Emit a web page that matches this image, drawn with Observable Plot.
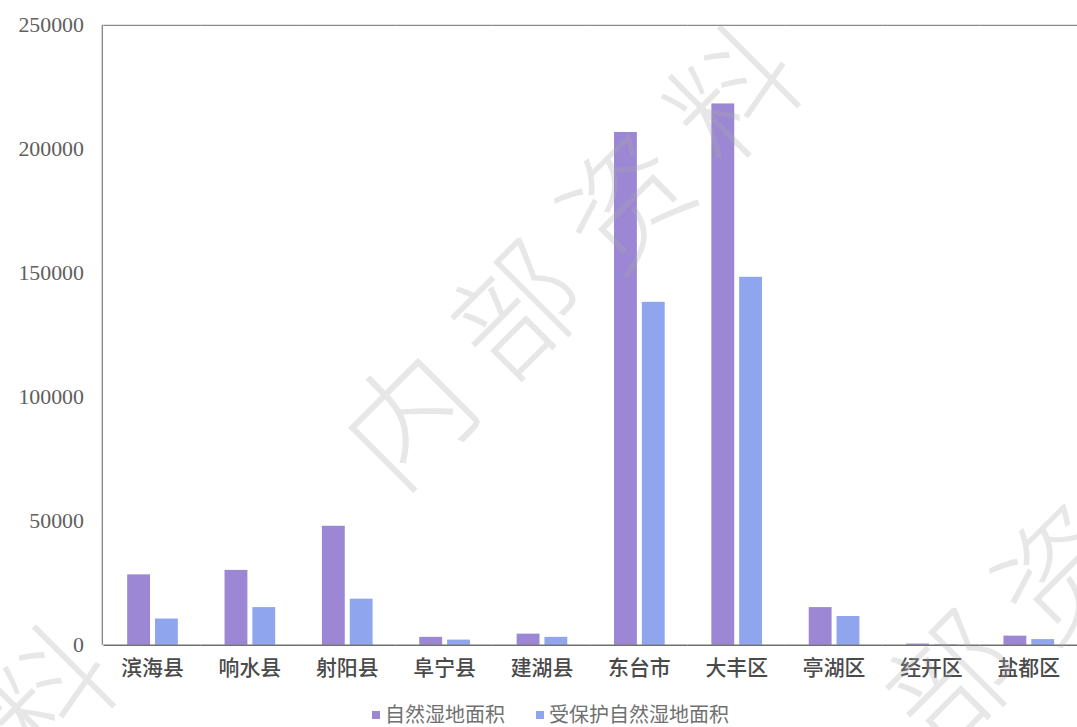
<!DOCTYPE html>
<html>
<head>
<meta charset="utf-8">
<script src="https://cdn.jsdelivr.net/npm/d3@7"></script>
<script src="https://cdn.jsdelivr.net/npm/@observablehq/plot@0.6"></script>
<style>
  html, body { margin: 0; padding: 0; background: #fff; overflow: hidden; }
  #wrap { position: relative; width: 1077px; height: 727px; overflow: hidden; }
  #legend { position: absolute; top: 701px; left: 0; width: 1077px; height: 26px;
    font-family: "Noto Sans CJK SC", sans-serif; font-size: 20px; color: #707070; }
  .li { position: absolute; top: 0; white-space: nowrap; line-height: 26px; }
  .sw { display: inline-block; width: 8px; height: 8px; margin-right: 5px; vertical-align: 3px; }
  .wm { position: absolute; font-family: "Noto Sans CJK SC", sans-serif; font-weight: 300;
    font-size: 125px; color: rgba(170,170,170,0.28); white-space: nowrap; letter-spacing: 28px;
    transform-origin: center center; pointer-events: none; line-height: 1; }
</style>
</head>
<body>
<div id="wrap">
  <div id="chart"></div>
  <div id="legend"></div>
</div>
<script>
const categories = ["滨海县","响水县","射阳县","阜宁县","建湖县","东台市","大丰区","亭湖区","经开区","盐都区"];
const seriesNames = ["自然湿地面积","受保护自然湿地面积"];
const wetlandArea = [28400, 30200, 48000, 3200, 4500, 206800, 218300, 15200, 500, 3700];
const protectedArea = [10600, 15200, 18600, 2100, 3200, 138300, 148400, 11600, 200, 2300];
const yTicks = [0, 50000, 100000, 150000, 200000, 250000];
const colors = ["#9b87d3", "#8fa5ee"];
const watermarkText = "内部资料";

const data = [];
categories.forEach((c, i) => {
  data.push({cat: c, series: seriesNames[0], value: wetlandArea[i]});
  data.push({cat: c, series: seriesNames[1], value: protectedArea[i]});
});

const plot = Plot.plot({
  width: 1084,
  height: 700,
  marginLeft: 103,
  marginRight: 0,
  marginTop: 25,
  marginBottom: 51,
  style: {background: "transparent", color: "#595959"},
  fx: {domain: categories, padding: 0, label: null},
  x: {domain: seriesNames, paddingInner: 0.18, paddingOuter: 0.83, axis: null},
  y: {domain: [0, 250000], label: null},
  color: {domain: seriesNames, range: colors},
  marks: [
    Plot.barY(data, {fx: "cat", x: "series", y: "value", fill: "series"}),
    Plot.ruleY([0], {stroke: "#6f6f6f", strokeWidth: 1.6}),
    Plot.ruleY([250000], {stroke: "#8a8a8a", strokeWidth: 1.4}),
    Plot.axisY({ticks: yTicks, tickSize: 0, tickPadding: 20, label: null,
      tickFormat: d => String(d), fontFamily: "Liberation Serif", fontSize: 22, fill: "#606060"}),
    Plot.axisFx({anchor: "bottom", tickSize: 0, tickPadding: 15, label: null,
      fontFamily: "Noto Sans CJK SC", fontSize: 21, fontWeight: 500, fill: "#4a4a4a"})
  ]
});
document.getElementById("chart").appendChild(plot);

// left frame line
const ys = plot.scale("y");
d3.select(plot).append("line")
  .attr("x1", 103).attr("x2", 103)
  .attr("y1", ys.apply(250000)).attr("y2", ys.apply(0))
  .attr("stroke", "#8a8a8a").attr("stroke-width", 1.4);

// legend
const legend = document.getElementById("legend");
const legendLeft = [372, 536];
seriesNames.forEach((s, i) => {
  const el = document.createElement("div");
  el.className = "li";
  el.style.left = legendLeft[i] + "px";
  el.innerHTML = `<span class="sw" style="background:${colors[i]}"></span>${s}`;
  legend.appendChild(el);
});

// watermarks
const wrap = document.getElementById("wrap");
[[575, 240], [1010, 610], [-110, 840]].forEach(([cx, cy]) => {
  const w = document.createElement("div");
  w.className = "wm";
  w.textContent = watermarkText;
  wrap.appendChild(w);
  const r = w.getBoundingClientRect();
  w.style.left = (cx - r.width / 2) + "px";
  w.style.top = (cy - r.height / 2) + "px";
  w.style.transform = "rotate(-45deg)";
});
</script>
</body>
</html>
